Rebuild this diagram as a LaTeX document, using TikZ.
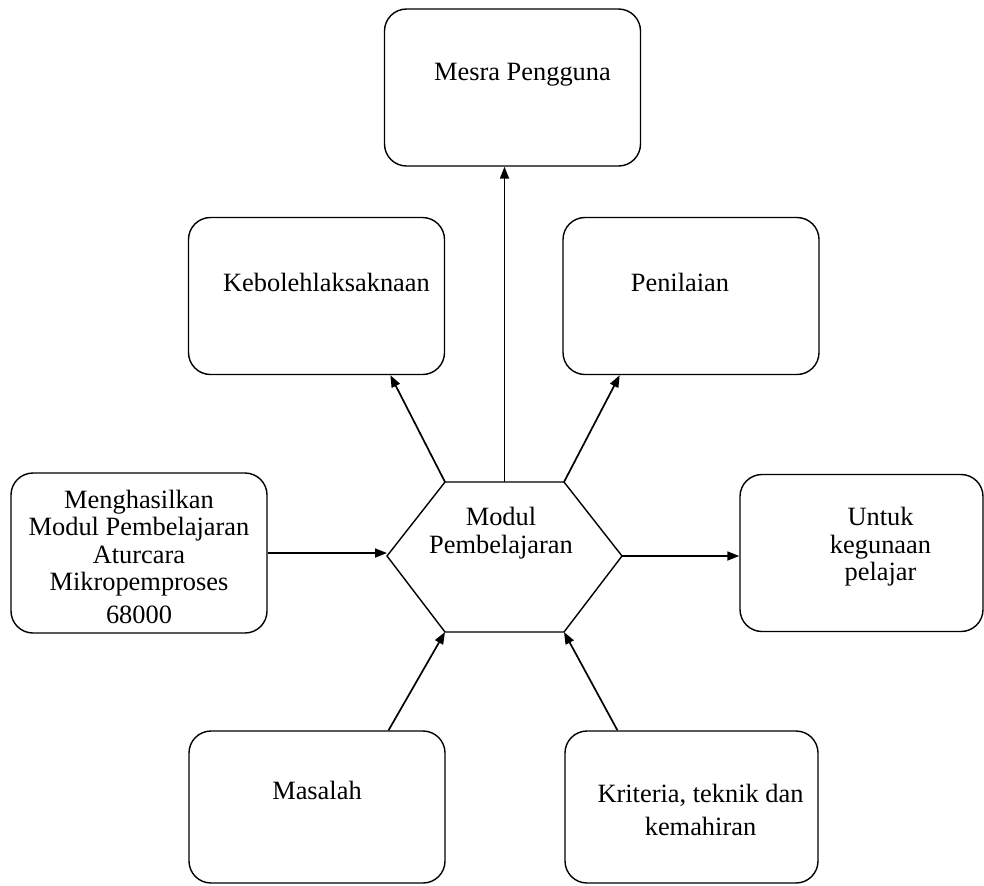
\documentclass[tikz,border=0pt]{standalone}
\usepackage{fontspec}
\setmainfont{Liberation Serif}
\usetikzlibrary{positioning}
\usetikzlibrary{arrows.meta}

\begin{document}
\begin{tikzpicture}
        [x=0.5pt,y=-0.5pt,
        kotak/.style={draw,rounded corners=11pt,line width=0.7pt,minimum width=128pt,minimum height=78.5pt,inner sep=0pt},
        teks/.style={align=center,font=\fontsize{13.2}{13.75}\selectfont,inner sep=0pt},
        >={Triangle[length=6pt,width=4.5pt]}]
        \useasboundingbox (0,0) rectangle (984,885);

        % kotak
        \node[kotak]  (mesra) at (512.5,87.5) {};
        \node[kotak]  (kebo) at (316.5,296) {};
        \node[kotak]  (nilai) at (691,296) {};
        \node[kotak,minimum height=80pt]  (hasil) at (139,553) {};
        \node[kotak,minimum width=121.5pt]  (untuk) at (861.5,553) {};
        \node[kotak,minimum height=76pt]  (masalah) at (317,807) {};
        \node[kotak,minimum width=126.5pt,minimum height=76pt]  (kriteria) at (691.5,807) {};

        % heksagon
        \coordinate (hexNW) at (445,482);
        \coordinate (hexNE) at (564,482);
        \coordinate (hexE) at (622,556);
        \coordinate (hexSE) at (564,632);
        \coordinate (hexSW) at (445,632);
        \coordinate (hexW) at (387,556);
        \coordinate (hexN) at (504.5,482);
        \draw[line width=0.7pt] (hexNW) -- (hexNE) -- (hexE) -- (hexSE) -- (hexSW) -- (hexW) -- cycle;

        % teks
        \node[teks]  (modul) at (501,533) {Modul\\Pembelajaran};
        \node[teks]  (mesraT) at ([shift={(10,-13)}]mesra.center) {Mesra Pengguna};
        \node[teks]  (keboT) at ([shift={(10,-14)}]kebo.center) {Kebolehlaksaknaan};
        \node[teks]  (nilaiT) at ([shift={(-11,-14)}]nilai.center) {Penilaian};
        \node[teks]  (untukT) at ([shift={(19,-6)}]untuk.center) {Untuk\\kegunaan\\pelajar};
        \node[teks]  (masalahT) at ([shift={(0,-17)}]masalah.center) {Masalah};
        \node[teks]  (kriteriaT) at ([shift={(9,3)}]kriteria.center) {Kriteria, teknik dan\\[2.5pt]kemahiran};
        \begin{scope}
        \clip (10,473) rectangle (268,625);
        \node[teks]  (hasilT) at ([shift={(0,4)}]hasil.center) {Menghasilkan\\Modul Pembelajaran\\Aturcara\\Mikropemproses\\[2.8pt]68000};
        \end{scope}

        \path [->,line width=0.85pt] (hexN) edge (hexN |- mesra.south)
        (hexNW) edge (kebo.-47)
        (hexNE) edge (nilai.-132)
        (hasil.east) edge (hasil.east -| hexW)
        (hexE) edge (hexE -| untuk.west)
        (masalah.47) edge (hexSW)
        (kriteria.134) edge (hexSE);
\end{tikzpicture}
\end{document}
